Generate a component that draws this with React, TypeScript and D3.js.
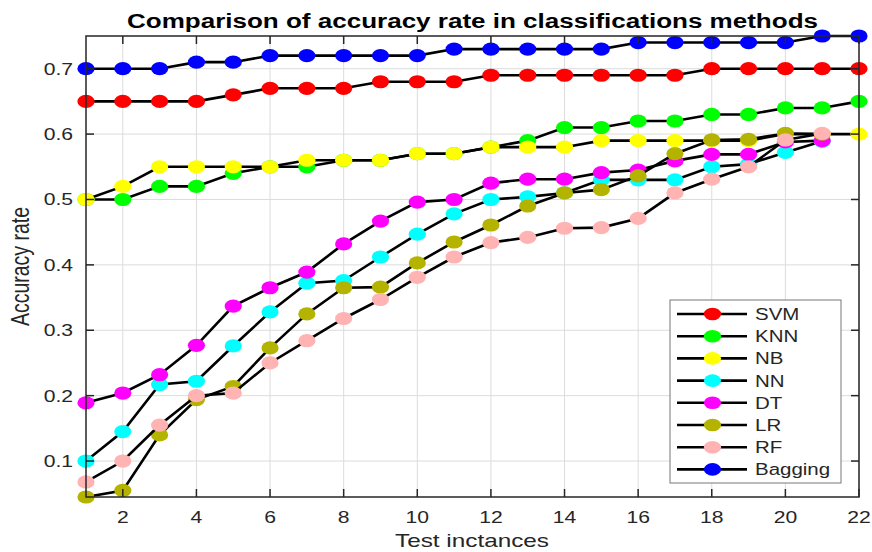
import React from 'react';
import * as d3 from 'd3';

// accuracy per test instance (1..22)
const methods = ['SVM', 'KNN', 'NB', 'NN', 'DT', 'LR', 'RF', 'Bagging'];
const methodColors = ['#FF0000', '#00FF00', '#FFFF00', '#00FFFF', '#FF00FF', '#B3B300', '#FFB3B3', '#0000FF'];

const svm = [0.65, 0.65, 0.65, 0.65, 0.66, 0.67, 0.67, 0.67, 0.68, 0.68, 0.68, 0.69, 0.69, 0.69, 0.69, 0.69, 0.69, 0.70, 0.70, 0.70, 0.70, 0.70];
const knn = [0.50, 0.50, 0.52, 0.52, 0.54, 0.55, 0.55, 0.56, 0.56, 0.57, 0.57, 0.58, 0.59, 0.61, 0.61, 0.62, 0.62, 0.63, 0.63, 0.64, 0.64, 0.65];
const nb = [0.50, 0.52, 0.55, 0.55, 0.55, 0.55, 0.56, 0.56, 0.56, 0.57, 0.57, 0.58, 0.58, 0.58, 0.59, 0.59, 0.59, 0.59, 0.59, 0.60, 0.60, 0.60];
const nn = [0.10, 0.145, 0.217, 0.222, 0.276, 0.328, 0.372, 0.376, 0.412, 0.447, 0.478, 0.50, 0.504, 0.51, 0.53, 0.53, 0.53, 0.55, 0.554, 0.572, 0.589];
const dt = [0.189, 0.204, 0.232, 0.277, 0.337, 0.365, 0.389, 0.432, 0.467, 0.496, 0.50, 0.525, 0.531, 0.531, 0.541, 0.545, 0.559, 0.569, 0.569, 0.588, 0.59];
const lr = [0.045, 0.055, 0.14, 0.194, 0.214, 0.273, 0.325, 0.365, 0.366, 0.403, 0.435, 0.461, 0.49, 0.51, 0.515, 0.536, 0.57, 0.591, 0.592, 0.601, 0.60];
const rf = [0.068, 0.10, 0.155, 0.20, 0.204, 0.25, 0.284, 0.318, 0.347, 0.381, 0.412, 0.434, 0.442, 0.456, 0.457, 0.471, 0.51, 0.531, 0.55, 0.591, 0.601];
const bagging = [0.70, 0.70, 0.70, 0.71, 0.71, 0.72, 0.72, 0.72, 0.72, 0.72, 0.73, 0.73, 0.73, 0.73, 0.73, 0.74, 0.74, 0.74, 0.74, 0.74, 0.75, 0.75];

const xTicks = [2, 4, 6, 8, 10, 12, 14, 16, 18, 20, 22];
const yTicks = [0.1, 0.2, 0.3, 0.4, 0.5, 0.6, 0.7];

const W = 872;
const H = 552;
const left = 86, right = 859, top = 36, bottom = 497;
const SX = 1.28; // the figure is stretched sideways
const font = 'Liberation Sans, Arial, sans-serif';
const axisColor = '#262626';

const Txt = ({ x, y, size, anchor = 'middle', weight = 'normal', children }: any) => (
  <text
    transform={`translate(${x},${y}) scale(${SX},1)`}
    fontSize={size}
    fontFamily={font}
    fontWeight={weight}
    textAnchor={anchor}
    fill={axisColor}
  >
    {children}
  </text>
);

export default function App() {
  const series = [svm, knn, nb, nn, dt, lr, rf, bagging];
  const all = series.flat();

  const x = d3.scaleLinear().domain([1, 22]).range([left, right]);
  const y = d3.scaleLinear().domain([d3.min(all)!, d3.max(all)!]).range([bottom, top]);

  const line = d3.line<number>()
    .x((_, i) => x(i + 1))
    .y((d) => y(d));

  const legX = 670, legY = 300, legW = 171, legH = 183;
  const legStep = 22.2;

  return (
    <svg width={W} height={H} style={{ position: 'absolute', left: 0, top: 0, background: '#fff' }}>
      <rect x={0} y={0} width={W} height={H} fill="#fff" />

      {/* grid */}
      {xTicks.map((t) => (
        <line key={'gx' + t} x1={x(t)} x2={x(t)} y1={top} y2={bottom} stroke="#dcdcdc" strokeWidth={1} />
      ))}
      {yTicks.map((t) => (
        <line key={'gy' + t} x1={left} x2={right} y1={y(t)} y2={y(t)} stroke="#dcdcdc" strokeWidth={1} />
      ))}

      {/* series: line first, markers on top, later series over earlier */}
      {series.map((s, k) => (
        <g key={methods[k]}>
          <path d={line(s)!} fill="none" stroke="#000" strokeWidth={2.6} />
          {s.map((v, i) => (
            <ellipse key={i} cx={x(i + 1)} cy={y(v)} rx={8.6} ry={6.6} fill={methodColors[k]} />
          ))}
        </g>
      ))}

      {/* box + ticks */}
      <rect x={left} y={top} width={right - left} height={bottom - top} fill="none" stroke={axisColor} strokeWidth={1.5} />
      {xTicks.map((t) => (
        <g key={'tx' + t}>
          <line x1={x(t)} x2={x(t)} y1={bottom} y2={bottom - 8} stroke={axisColor} strokeWidth={1.5} />
          <line x1={x(t)} x2={x(t)} y1={top} y2={top + 8} stroke={axisColor} strokeWidth={1.5} />
          <Txt x={x(t)} y={523} size={16.5}>{t}</Txt>
        </g>
      ))}
      {yTicks.map((t) => (
        <g key={'ty' + t}>
          <line x1={left} x2={left + 8} y1={y(t)} y2={y(t)} stroke={axisColor} strokeWidth={1.5} />
          <line x1={right} x2={right - 8} y1={y(t)} y2={y(t)} stroke={axisColor} strokeWidth={1.5} />
          <Txt x={73} y={y(t) + 6} size={16.5} anchor="end">{d3.format('.1f')(t)}</Txt>
        </g>
      ))}

      {/* labels */}
      <text
        x={(left + right) / 2 + 0}
        y={28}
        fontSize={20}
        fontFamily={font}
        fontWeight="bold"
        textAnchor="middle"
        textLength={691}
        lengthAdjust="spacingAndGlyphs"
        fill="#000"
      >
        Comparison of accuracy rate in classifications methods
      </text>
      <Txt x={472} y={547} size={19}>Test inctances</Txt>
      <text
        transform={`translate(29,${(top + bottom) / 2}) rotate(-90) scale(1,${SX})`}
        fontSize={19.5}
        fontFamily={font}
        textAnchor="middle"
        fill={axisColor}
      >
        Accuracy rate
      </text>

      {/* legend */}
      <rect x={legX} y={legY} width={legW} height={legH} fill="#fff" stroke="#777" strokeWidth={1} />
      {methods.map((m, k) => {
        const cy = legY + 14 + k * legStep;
        return (
          <g key={'leg' + m}>
            <line x1={677} x2={747} y1={cy} y2={cy} stroke="#000" strokeWidth={2.6} />
            <ellipse cx={712.5} cy={cy} rx={8.6} ry={6.3} fill={methodColors[k]} />
            <Txt x={755} y={cy + 6} size={16} anchor="start">{m}</Txt>
          </g>
        );
      })}
    </svg>
  );
}
